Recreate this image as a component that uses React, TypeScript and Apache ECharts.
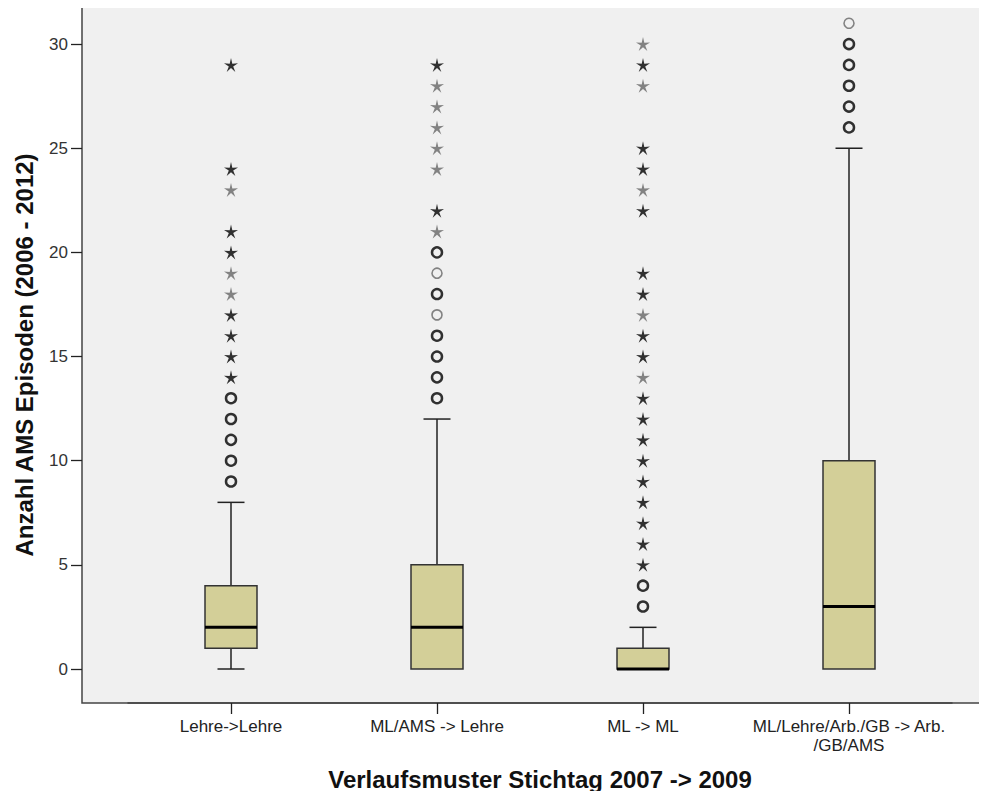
import React, { useEffect, useRef } from "react";
import * as echarts from "echarts";

const categories = [
  "Lehre->Lehre",
  "ML/AMS -> Lehre",
  "ML -> ML",
  "ML/Lehre/Arb./GB -> Arb.\n/GB/AMS",
];

const whiskerLow = [0, 0, 0, 0];
const quartile1 = [1, 0, 0, 0];
const medians = [2, 2, 0, 3];
const quartile3 = [4, 5, 1, 10];
const whiskerHigh = [8, 12, 2, 25];

// outliers (o) — strong = many overlapping cases, faint = few
const circlesStrong = [[9, 10, 11, 12, 13], [13, 14, 15, 16, 18, 20], [3, 4], [26, 27, 28, 29, 30]];
const circlesFaint = [[], [17, 19], [], [31, 32]];
// extreme values (*)
const starsStrong = [
  [14, 15, 16, 17, 20, 21, 24, 29],
  [22, 29],
  [5, 6, 7, 8, 9, 10, 11, 12, 13, 15, 16, 18, 19, 22, 24, 25, 29],
  [],
];
const starsFaint = [[18, 19, 23], [21, 24, 25, 26, 27, 28], [14, 17, 23, 28, 30], []];

const yTicks = [0, 5, 10, 15, 20, 25, 30];

const STAR =
  "path://M50 0 L59 37 L97.55 34.55 L65 55 L79.39 90.45 L50 65.5 L20.61 90.45 L35 55 L2.45 34.55 L41 37 Z";

const toPoints = (groups: number[][]) =>
  groups.flatMap((vals, i) => vals.map((v) => [i, v]));

export default function App() {
  const ref = useRef<HTMLDivElement>(null);
  useEffect(() => {
    if (!ref.current) return;
    const chart = echarts.init(ref.current, undefined, { renderer: "svg" });
    const boxData = categories.map((_, i) => [
      i,
      whiskerLow[i],
      quartile1[i],
      medians[i],
      quartile3[i],
      whiskerHigh[i],
    ]);
    const font = "'Liberation Sans', Arial, sans-serif";
    chart.setOption({
      animation: false,
      textStyle: { fontFamily: font },
      graphic: [
        {
          type: "rect",
          z: -10,
          silent: true,
          shape: { x: 82, y: 7, width: 920, height: 696 },
          style: { fill: "#f0f0f0", stroke: "#444", lineWidth: 1.5 },
        },
      ],
      grid: { left: 128, right: 35, top: 7, bottom: 96, containLabel: false },
      xAxis: {
        type: "category",
        data: categories,
        boundaryGap: true,
        axisLine: { show: true, onZero: false, lineStyle: { color: "#444", width: 1.5 } },
        axisTick: {
          show: true,
          interval: 0,
          alignWithLabel: true,
          length: 11,
          lineStyle: { color: "#222", width: 1.3 },
        },
        axisLabel: {
          interval: 0,
          color: "#222",
          fontSize: 17,
          margin: 14,
          lineHeight: 19,
          fontFamily: font,
        },
        name: "Verlaufsmuster Stichtag 2007 -> 2009",
        nameLocation: "middle",
        nameGap: 64,
        nameTextStyle: {
          fontSize: 24,
          fontWeight: "bold",
          color: "#111",
          fontFamily: font,
        },
        splitLine: { show: false },
      },
      yAxis: {
        type: "value",
        min: -1.632,
        max: 31.78,
        offset: 46,
        axisLine: { show: false },
        axisTick: {
          show: true,
          length: 11,
          customValues: yTicks,
          lineStyle: { color: "#222", width: 1.3 },
        },
        axisLabel: {
          customValues: yTicks,
          color: "#333",
          fontSize: 17,
          margin: 14,
          fontFamily: font,
        },
        splitLine: { show: false },
        name: "Anzahl AMS Episoden (2006 - 2012)",
        nameLocation: "middle",
        nameGap: 46,
        nameTextStyle: {
          fontSize: 24,
          fontWeight: "bold",
          color: "#111",
          fontFamily: font,
        },
      },
      series: [
        {
          type: "custom",
          z: 2,
          data: boxData,
          encode: { x: 0, y: [1, 2, 3, 4, 5] },
          renderItem: (params: any, api: any) => {
            const idx = api.value(0);
            const pLow = api.coord([idx, api.value(1)]);
            const pQ1 = api.coord([idx, api.value(2)]);
            const pMed = api.coord([idx, api.value(3)]);
            const pQ3 = api.coord([idx, api.value(4)]);
            const pHigh = api.coord([idx, api.value(5)]);
            const cx = pMed[0];
            const halfBox = 26;
            const halfCap = 13.5;
            const lineStyle = { stroke: "#222", lineWidth: 1.5 };
            const children: any[] = [];
            if (pHigh[1] < pQ3[1] - 0.5) {
              children.push({
                type: "line",
                shape: { x1: cx, y1: pHigh[1], x2: cx, y2: pQ3[1] },
                style: lineStyle,
              });
              children.push({
                type: "line",
                shape: { x1: cx - halfCap, y1: pHigh[1], x2: cx + halfCap, y2: pHigh[1] },
                style: lineStyle,
              });
            }
            if (pLow[1] > pQ1[1] + 0.5) {
              children.push({
                type: "line",
                shape: { x1: cx, y1: pQ1[1], x2: cx, y2: pLow[1] },
                style: lineStyle,
              });
              children.push({
                type: "line",
                shape: { x1: cx - halfCap, y1: pLow[1], x2: cx + halfCap, y2: pLow[1] },
                style: lineStyle,
              });
            }
            children.push({
              type: "rect",
              shape: { x: cx - halfBox, y: pQ3[1], width: halfBox * 2, height: pQ1[1] - pQ3[1] },
              style: { fill: "#d3cf98", stroke: "#333", lineWidth: 1.5 },
            });
            children.push({
              type: "line",
              shape: { x1: cx - halfBox, y1: pMed[1], x2: cx + halfBox, y2: pMed[1] },
              style: { stroke: "#000", lineWidth: 3 },
            });
            return { type: "group", children };
          },
        },
        {
          type: "scatter",
          z: 3,
          data: toPoints(circlesStrong),
          symbol: "circle",
          symbolSize: 10,
          itemStyle: { color: "#f0f0f0", borderColor: "#000", borderWidth: 2.5 },
        },
        {
          type: "scatter",
          z: 3,
          data: toPoints(circlesFaint),
          symbol: "circle",
          symbolSize: 10,
          itemStyle: { color: "#f0f0f0", borderColor: "#666", borderWidth: 1.6 },
        },
        {
          type: "scatter",
          z: 3,
          data: toPoints(starsStrong),
          symbol: STAR,
          symbolSize: 14,
          itemStyle: { color: "#000" },
        },
        {
          type: "scatter",
          z: 3,
          data: toPoints(starsFaint),
          symbol: STAR,
          symbolSize: 14,
          itemStyle: { color: "#666" },
        },
      ],
    });
    return () => chart.dispose();
  }, []);
  return <div ref={ref} style={{ width: 987, height: 799, margin: -8 }} />;
}
